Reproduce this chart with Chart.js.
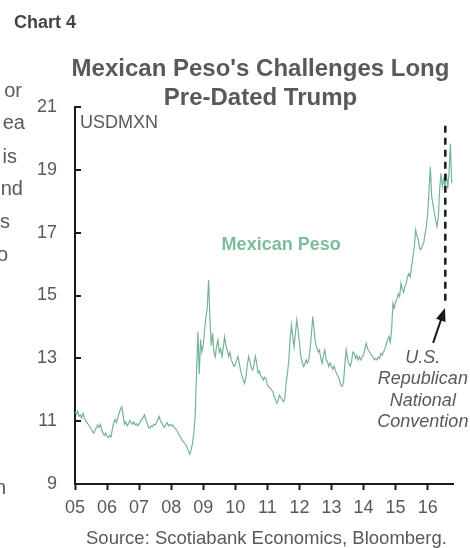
<!DOCTYPE html>
<html>
<head>
<meta charset="utf-8">
<script src="https://cdn.jsdelivr.net/npm/chart.js@4"></script>
<style>
  html, body { margin: 0; padding: 0; background: #fff; overflow: hidden; }
  #wrap { position: relative; width: 470px; height: 548px; font-family: "Liberation Sans", Arial, sans-serif; color: #595959; overflow: hidden; }
  #chart { position: absolute; left: 0; top: 0; }
  .t { position: absolute; white-space: nowrap; line-height: 1; }
  #label { left: 14px; top: 13px; font-size: 18px; font-weight: bold; color: #454545; }
  #title { left: 60px; width: 401px; top: 53px; font-size: 24px; line-height: 29px; font-weight: bold; text-align: center; white-space: normal; }
  #source { left: 60px; width: 413px; top: 529px; font-size: 18.5px; text-align: center; }
  .frag { position: absolute; font-size: 20px; line-height: 1; text-align: right; width: 120px; white-space: nowrap; }
</style>
</head>
<body>
<div id="wrap">
  <canvas id="chart" width="470" height="548"></canvas>
  <div class="t" id="label">Chart 4</div>
  <div class="t" id="title">Mexican Peso's Challenges Long<br>Pre-Dated Trump</div>
  <div class="t" id="source">Source: Scotiabank Economics, Bloomberg.</div>
  <div class="frag" style="left:-98px; top:80px;">or</div>
  <div class="frag" style="left:-95px; top:112px;">ea</div>
  <div class="frag" style="left:-103px; top:146px;">is</div>
  <div class="frag" style="left:-97px; top:178px;">nd</div>
  <div class="frag" style="left:-110px; top:211px;">s</div>
  <div class="frag" style="left:-112px; top:244px;">o</div>
  <div class="frag" style="left:-114px; top:477px;">n</div>
</div>
<script>
// USD/MXN, two readings per month, Jan 2005 - Oct 2016
const startYear = 2005;
const pointsPerYear = 24;
const yearTicks = [2005, 2006, 2007, 2008, 2009, 2010, 2011, 2012, 2013, 2014, 2015, 2016];

const usd2005 = [11.30, 11.22, 11.32, 11.15, 11.20, 11.10, 11.25, 11.12, 11.00, 10.95, 10.90, 10.82, 10.75, 10.68, 10.62, 10.70, 10.80, 10.88, 10.80, 10.90, 10.72, 10.62, 10.55, 10.62];
const usd2006 = [10.52, 10.48, 10.55, 10.50, 10.75, 10.95, 11.05, 10.95, 11.10, 11.25, 11.38, 11.46, 11.20, 10.90, 10.98, 10.85, 10.92, 11.02, 10.95, 10.90, 10.98, 10.88, 10.92, 10.85];
const usd2007 = [10.92, 11.00, 11.05, 11.12, 11.20, 11.05, 10.95, 10.80, 10.78, 10.85, 10.82, 10.90, 10.88, 10.95, 11.05, 11.15, 11.00, 10.95, 10.85, 10.80, 10.90, 10.95, 10.85, 10.90];
const usd2008 = [10.85, 10.88, 10.82, 10.78, 10.72, 10.65, 10.55, 10.50, 10.40, 10.35, 10.30, 10.25, 10.15, 10.05, 9.95, 10.10, 10.30, 10.65, 11.20, 12.60, 13.85, 12.50, 13.60, 13.20];
const usd2009 = [13.40, 13.90, 14.30, 14.60, 15.50, 14.30, 13.40, 13.80, 13.20, 13.05, 13.40, 13.58, 13.20, 13.30, 13.06, 13.35, 13.69, 13.40, 13.25, 13.06, 13.20, 12.95, 12.85, 12.74];
const usd2010 = [12.80, 12.95, 13.06, 12.85, 12.60, 12.45, 12.30, 12.20, 12.40, 12.80, 13.06, 12.90, 12.70, 12.63, 12.80, 13.06, 12.85, 12.53, 12.60, 12.45, 12.40, 12.31, 12.40, 12.35];
const usd2011 = [12.15, 12.10, 12.05, 11.99, 11.95, 11.80, 11.70, 11.57, 11.65, 11.83, 11.75, 11.70, 11.62, 11.70, 12.20, 12.53, 12.90, 13.60, 14.06, 13.70, 13.37, 13.80, 14.22, 13.90];
const usd2012 = [13.50, 13.06, 12.90, 12.74, 12.80, 12.95, 12.85, 12.95, 13.30, 13.80, 14.33, 13.90, 13.48, 13.35, 13.20, 13.27, 13.00, 12.84, 13.10, 13.27, 12.95, 12.90, 12.74, 12.85];
const usd2013 = [12.74, 12.65, 12.75, 12.60, 12.50, 12.42, 12.30, 12.15, 12.10, 12.25, 12.80, 13.27, 13.00, 12.84, 12.75, 12.90, 13.20, 13.16, 13.00, 13.10, 12.95, 13.05, 12.95, 13.05];
const usd2014 = [13.10, 13.30, 13.48, 13.30, 13.25, 13.16, 13.10, 13.05, 12.95, 13.00, 12.95, 13.05, 13.00, 13.16, 13.10, 13.20, 13.30, 13.45, 13.58, 13.69, 13.50, 13.90, 14.75, 14.60];
const usd2015 = [14.80, 14.90, 15.05, 14.96, 15.39, 15.20, 15.10, 15.30, 15.40, 15.60, 15.70, 15.60, 15.95, 16.24, 16.55, 17.09, 16.90, 16.77, 16.50, 16.46, 16.60, 16.67, 16.95, 17.19];
const usd2016 = [17.60, 18.30, 19.10, 18.14, 17.90, 17.62, 17.40, 17.19, 17.50, 18.40, 18.89, 18.46, 18.70, 18.50, 18.89, 18.40, 18.90, 19.84, 18.57];

const usdmxn = [].concat(usd2005, usd2006, usd2007, usd2008, usd2009, usd2010,
  usd2011, usd2012, usd2013, usd2014, usd2015, usd2016);

// Republican National Convention, July 2016
const rncDate = 2016.55;

const points = usdmxn.map((v, i) => ({ x: startYear + i / pointsPerYear, y: v }));

const axisColor = '#1a1a1a';
const textColor = '#595959';

const extras = {
  id: 'extras',
  afterDraw(chart) {
    const { ctx, chartArea, scales: { x, y } } = chart;
    ctx.save();

    // y ticks point inward
    ctx.strokeStyle = axisColor;
    ctx.lineWidth = 2;
    y.ticks.forEach(t => {
      const py = Math.round(y.getPixelForValue(t.value));
      ctx.beginPath();
      ctx.moveTo(chartArea.left, py);
      ctx.lineTo(chartArea.left + 6, py);
      ctx.stroke();
    });

    ctx.fillStyle = textColor;
    ctx.font = '18px "Liberation Sans", Arial, sans-serif';
    ctx.textAlign = 'left';
    ctx.textBaseline = 'alphabetic';
    ctx.fillText('USDMXN', chartArea.left + 5, chartArea.top + 21);

    ctx.fillStyle = '#7dbd9c';
    ctx.font = 'bold 18px "Liberation Sans", Arial, sans-serif';
    ctx.textAlign = 'center';
    ctx.textBaseline = 'middle';
    ctx.fillText('Mexican Peso', x.getPixelForValue(2011.43), y.getPixelForValue(16.6));

    // convention marker
    const dx = x.getPixelForValue(rncDate);
    ctx.strokeStyle = axisColor;
    ctx.lineWidth = 2.5;
    ctx.setLineDash([7, 5]);
    ctx.beginPath();
    ctx.moveTo(dx, y.getPixelForValue(20.4));
    ctx.lineTo(dx, y.getPixelForValue(14.8));
    ctx.stroke();
    ctx.setLineDash([]);

    const ax0 = x.getPixelForValue(2016.17), ay0 = y.getPixelForValue(13.49);
    const ax1 = x.getPixelForValue(2016.54), ay1 = y.getPixelForValue(14.6);
    const ang = Math.atan2(ay1 - ay0, ax1 - ax0);
    ctx.lineWidth = 2;
    ctx.beginPath();
    ctx.moveTo(ax0, ay0);
    ctx.lineTo(ax1 - 8 * Math.cos(ang), ay1 - 8 * Math.sin(ang));
    ctx.stroke();
    ctx.fillStyle = axisColor;
    ctx.beginPath();
    ctx.moveTo(ax1, ay1);
    ctx.lineTo(ax1 - 13 * Math.cos(ang) + 5 * Math.sin(ang), ay1 - 13 * Math.sin(ang) - 5 * Math.cos(ang));
    ctx.lineTo(ax1 - 13 * Math.cos(ang) - 5 * Math.sin(ang), ay1 - 13 * Math.sin(ang) + 5 * Math.cos(ang));
    ctx.closePath();
    ctx.fill();

    ctx.fillStyle = textColor;
    ctx.font = 'italic 18px "Liberation Sans", Arial, sans-serif';
    ctx.textAlign = 'center';
    ctx.textBaseline = 'alphabetic';
    const cx = x.getPixelForValue(2015.85);
    ['U.S.', 'Republican', 'National', 'Convention'].forEach((s, i) => {
      ctx.fillText(s, cx, 363 + i * 21.3);
    });
    ctx.restore();
  }
};

Chart.defaults.font.family = '"Liberation Sans", Arial, sans-serif';
Chart.defaults.color = textColor;

new Chart(document.getElementById('chart'), {
  type: 'line',
  data: {
    datasets: [{
      label: 'Mexican Peso',
      data: points,
      borderColor: '#76b496',
      borderWidth: 1.2,
      pointRadius: 0,
      tension: 0
    }]
  },
  options: {
    responsive: false,
    animation: false,
    layout: { padding: { left: 0, right: 17, top: 107, bottom: 0 } },
    plugins: {
      legend: { display: false },
      tooltip: { enabled: false }
    },
    scales: {
      x: {
        type: 'linear',
        min: 2005,
        max: 2016.79,
        afterFit: s => { s.height = 64; },
        afterBuildTicks: s => { s.ticks = yearTicks.map(v => ({ value: v })); },
        ticks: {
          padding: 7,
          autoSkip: false,
          maxRotation: 0,
          font: { size: 18 },
          callback: v => String(v).slice(2)
        },
        grid: { drawOnChartArea: false, tickLength: 6, tickWidth: 2, tickColor: axisColor },
        border: { color: axisColor, width: 2 }
      },
      y: {
        min: 9,
        max: 21,
        afterFit: s => { s.width = 75; },
        ticks: { stepSize: 2, padding: 18, font: { size: 18 } },
        grid: { drawOnChartArea: false, drawTicks: false },
        border: { color: axisColor, width: 2 }
      }
    }
  },
  plugins: [extras]
});
</script>
</body>
</html>
